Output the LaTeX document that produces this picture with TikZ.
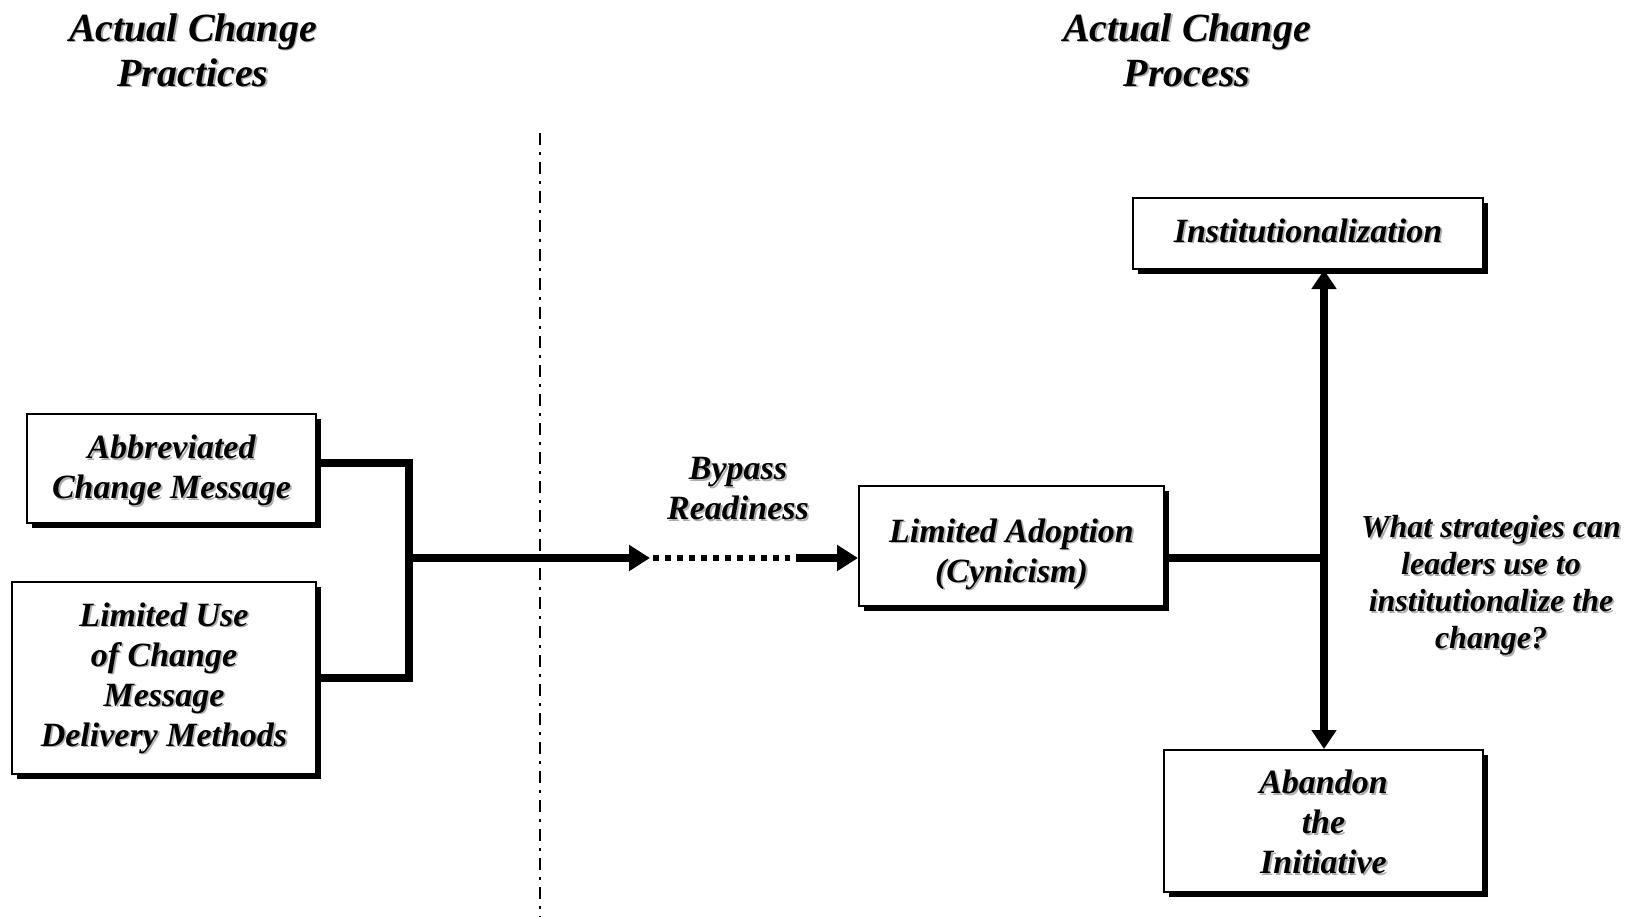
\documentclass[tikz,border=0pt]{standalone}
\usepackage{fontspec}
\setmainfont{Liberation Serif}
\usetikzlibrary{arrows.meta,shadows}
\definecolor{shadowgray}{gray}{0.68}
% #1 name, #2 position, #3 yshift, #4 style, #5 text
\newcommand\shtxt[5]{%
  \node[#4, text=shadowgray] (#1-s) at ([xshift=1.8pt, yshift={#3-1.8pt}]#2) {#5};
  \node[#4] (#1) at ([yshift=#3]#2) {#5};
}
\tikzset{
  box/.style={draw=black, line width=2pt, fill=white, inner sep=0pt,
    drop shadow={shadow xshift=5pt, shadow yshift=-5pt, fill=black, opacity=1}},
  bt/.style={align=center, inner sep=0pt, font=\fontsize{34}{40}\selectfont\bfseries\itshape},
  tt/.style={align=center, inner sep=0pt, font=\fontsize{40}{45}\selectfont\bfseries\itshape},
  qt/.style={align=center, inner sep=0pt, font=\fontsize{32}{37}\selectfont\bfseries\itshape},
  conn/.style={line width=8pt, line join=miter},
  tip/.style={-{Triangle[length=21pt,width=25pt]}},
  dtip/.style={{Triangle[length=19pt,width=24pt]}-{Triangle[length=19pt,width=24pt]}},
}
\begin{document}
\begin{tikzpicture}[x=1pt,y=-1pt]
\useasboundingbox (0,0) rectangle (1637,917);
% titles
\shtxt{t1}{193,50}{0pt}{tt}{Actual Change\\Practices}
\shtxt{t2}{1187,50}{0pt}{tt}{Actual Change\\Process}
% divider
\coordinate (v1) at (540,133);
\coordinate (v2) at (540,917);
\draw[line width=2pt, dash pattern=on 12pt off 7pt on 3pt off 7pt] (v1) -- (v2);
% boxes
\node[box, minimum width=289pt, minimum height=109pt] (abbr) at (171.5,468.5) {};
\shtxt{abbrt}{abbr.center}{-2pt}{bt}{Abbreviated\\Change Message}
\node[box, minimum width=304pt, minimum height=192pt] (lim) at (164,678) {};
\shtxt{limt}{lim.center}{0pt}{bt}{Limited Use\\of Change\\Message\\Delivery Methods}
\node[box, minimum width=305pt, minimum height=120pt] (adopt) at (1011.5,546) {};
\shtxt{adoptt}{adopt.center}{-8pt}{bt}{Limited Adoption\\(Cynicism)}
\node[box, minimum width=350pt, minimum height=71pt] (inst) at (1308,233.5) {};
\shtxt{instt}{inst.center}{3pt}{bt}{Institutionalization}
\node[box, minimum width=319pt, minimum height=142pt] (aband) at (1323.5,821) {};
\shtxt{abandt}{aband.center}{-1pt}{bt}{Abandon\\the\\Initiative}
% labels
\shtxt{bypass}{738,489}{0pt}{bt}{Bypass\\Readiness}
\shtxt{quest}{1491,585}{0pt}{qt}{What strategies can\\leaders use to\\institutionalize the\\change?}
% connectors
\coordinate (jn) at (409,558);
\coordinate (a1) at (650,558);
\coordinate (d1) at (653,558);
\coordinate (d2) at (790,558);
\coordinate (d3) at (796,558);
\coordinate (vj) at (1324,558);
\draw[conn] ([yshift=6pt]abbr.east) -| (jn) |- (lim.east);
\draw[conn, tip] (jn) -- (a1);
\draw[line width=6pt, dash pattern=on 6pt off 6pt] (d1) -- (d2);
\draw[conn, tip] (d3) -- ([yshift=-12pt]adopt.west);
\draw[conn] ([yshift=-12pt]adopt.east) -- (vj);
\draw[conn, dtip] (inst.south -| vj) -- (aband.north -| vj);
\end{tikzpicture}
\end{document}
